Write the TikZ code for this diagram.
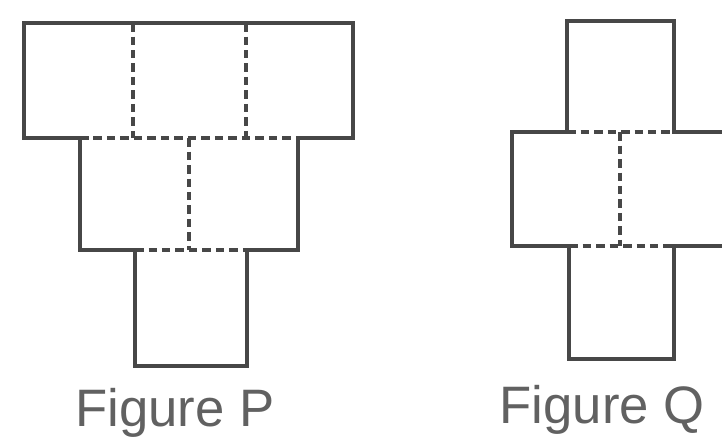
\documentclass[tikz,border=0pt]{standalone}
\usepackage{fontspec}
\setmainfont{Liberation Sans}
\begin{document}
\begin{tikzpicture}[x=0.02cm, y=-0.02cm,
  outline/.style={draw=black!72, line width=2.1pt, line join=miter},
  fold/.style={draw=black!72, line width=2.1pt, dash pattern=on 0.17cm off 0.1cm},
  caption/.style={anchor=base, text=black!62, font=\fontsize{30}{36}\selectfont}]
\clip (0,0) rectangle (722,437);
% Figure P
\draw [outline] (80,138) -- (24,138) -- (24,23) -- (353,23) -- (353,138) -- (298,138)
  -- (298,250) -- (247,250) -- (247,366) -- (135,366) -- (135,250) -- (80,250) -- cycle;
\draw [fold] (80,138) -- (298,138);
\draw [fold] (135,250) -- (247,250);
\draw [fold] (133,23) -- (133,138);
\draw [fold] (246,23) -- (246,138);
\draw [fold] (189,138) -- (189,250);
\node (capP) at (175,426) [caption] {Figure P};
% Figure Q
\draw [outline] (730,132) -- (674,132) -- (674,21) -- (567,21) -- (567,132) -- (512,132)
  -- (512,246) -- (569,246) -- (569,359) -- (674,359) -- (674,246) -- (730,246);
\draw [fold] (567,132) -- (674,132);
\draw [fold] (569,246) -- (674,246);
\draw [fold] (620,132) -- (620,246);
\node (capQ) at (602,423) [caption] {Figure Q};
\end{tikzpicture}
\end{document}
